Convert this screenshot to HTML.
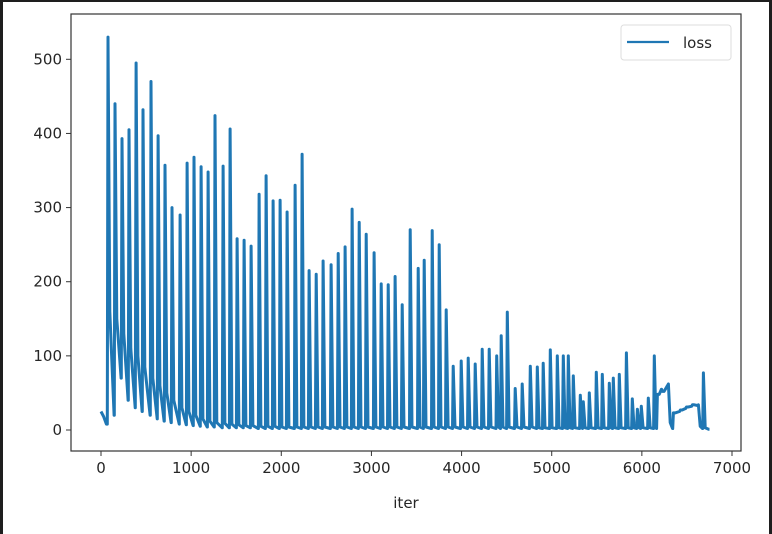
<!DOCTYPE html>
<html><head><meta charset="utf-8"><style>
html,body{margin:0;padding:0;background:#1e1e1e;}
#wrap{position:absolute;left:3px;top:2px;width:766px;height:532px;background:#fff;}
svg{position:absolute;left:0;top:0;}
text{font-family:"DejaVu Sans","Liberation Sans",sans-serif;font-size:15px;fill:#262626;}
</style></head><body>
<div id="wrap"></div>
<svg id="chart" width="772" height="534"></svg>
<script>
const xTicks=[0,1000,2000,3000,4000,5000,6000,7000];
const yTicks=[0,100,200,300,400,500];
const startIters=[0,30,60];
const startVals=[25,18,8];
const peakIters=[78,155,233,311,389,466,555,633,710,788,877,955,1032,1110,1188,1265,1354,1432,1510,1587,1665,1754,1832,1909,1987,2065,2153,2231,2309,2387,2464,2553,2631,2708,2786,2864,2942,3030,3108,3186,3263,3341,3430,3519,3585,3674,3752,3830,3907,3996,4074,4151,4229,4307,4390,4440,4507,4595,4673,4762,4840,4906,4984,5062,5128,5184,5239,5317,5350,5417,5495,5561,5639,5683,5750,5828,5894,5950,5994,6072,6138,6172,6227,6294,6350,6427,6494,6561,6627,6683];
const peakVals=[530,440,393,405,495,432,470,397,357,300,290,360,368,355,348,424,356,406,258,256,248,318,343,309,310,294,330,372,215,210,228,223,238,247,298,280,264,239,197,196,207,169,270,218,229,269,250,162,86,93,97,89,109,109,100,127,159,56,62,86,85,90,108,100,100,100,73,47,38,50,78,75,63,70,75,104,42,28,32,43,100,48,52,62,23,27,31,34,34,77];
const afterVals=[160,150,130,110,100,85,70,60,50,40,30,25,20,15,12,10,9,8,7,6,6,5,5,5,4,4,4,4,4,4,4,4,4,4,4,4,4,4,4,4,4,4,4,4,4,4,4,4,4,4,4,4,4,4,4,4,4,4,4,4,3,3,3,3,3,3,3,3,3,3,3,3,3,3,3,3,3,3,3,3,3,48,52,10,23,27,31,34,5,3];
const floorVals=[20,70,40,30,25,20,15,12,10,8,7,6,5,4,4,3,3,3,3,3,2,2,2,2,2,2,2,2,2,2,2,2,2,2,2,2,2,2,2,2,2,2,2,2,2,2,2,2,2,2,2,2,2,2,2,2,2,2,2,2,2,2,2,2,2,2,2,2,2,2,2,2,2,2,2,2,2,2,2,2,2,55,60,2,25,29,32,33,2,1];
const endIter=6750;
const NS='http://www.w3.org/2000/svg';
const svg=document.getElementById('chart');
const L=71,R=741,T=14,B=451;
const x=v=>101+v*(732-101)/7000;
const y=v=>430-v*(430-59.3)/500;
function mk(tag,attrs){const e=document.createElementNS(NS,tag);for(const k in attrs)e.setAttribute(k,attrs[k]);svg.appendChild(e);return e;}
const pts=[];
for(let i=0;i<startIters.length;i++)pts.push([startIters[i],startVals[i]]);
for(let i=0;i<peakIters.length;i++){
  const nxt=i+1<peakIters.length?peakIters[i+1]:endIter;
  pts.push([peakIters[i]-8,i>0?floorVals[i-1]:startVals[startVals.length-1]]);
  pts.push([peakIters[i],peakVals[i]]);
  pts.push([peakIters[i]+20,afterVals[i]]);
  pts.push([nxt-10,floorVals[i]]);
}
pts.push([endIter,floorVals[floorVals.length-1]]);
const clip=mk('clipPath',{id:'clip'});
const cr=document.createElementNS(NS,'rect');cr.setAttribute('x',L);cr.setAttribute('y',T);cr.setAttribute('width',R-L);cr.setAttribute('height',B-T);clip.appendChild(cr);
const line=mk('polyline',{points:pts.map(p=>x(p[0]).toFixed(1)+','+y(p[1]).toFixed(1)).join(' '),fill:'none',stroke:'#1f77b4','stroke-width':3,'stroke-linejoin':'round','clip-path':'url(#clip)'});


const frame=mk('rect',{x:L,y:T,width:R-L,height:B-T,fill:'none',stroke:'#333','stroke-width':1.2});


xTicks.forEach(t=>{
  const tk=mk('line',{x1:x(t),x2:x(t),y1:B,y2:B+5,stroke:'#333','stroke-width':1});
  
  
  const tx=mk('text',{x:x(t),y:B+22,'text-anchor':'middle'});tx.textContent=t;
  
  
});
yTicks.forEach(t=>{
  const tk=mk('line',{x1:L-5,x2:L,y1:y(t),y2:y(t),stroke:'#333','stroke-width':1});
  
  
  const tx=mk('text',{x:L-9,y:y(t)+5,'text-anchor':'end'});tx.textContent=t;
  
  
});
const xl=mk('text',{x:406,y:508,'text-anchor':'middle'});xl.textContent='iter';


const lg=mk('rect',{x:621,y:25,width:110,height:35,rx:3,fill:'#fff',stroke:'#ddd','stroke-width':1});


const ll=mk('line',{x1:627,x2:669,y1:42,y2:42,stroke:'#1f77b4','stroke-width':2.3});


const lt=mk('text',{x:683,y:48});lt.textContent='loss';


</script>
</body></html>
